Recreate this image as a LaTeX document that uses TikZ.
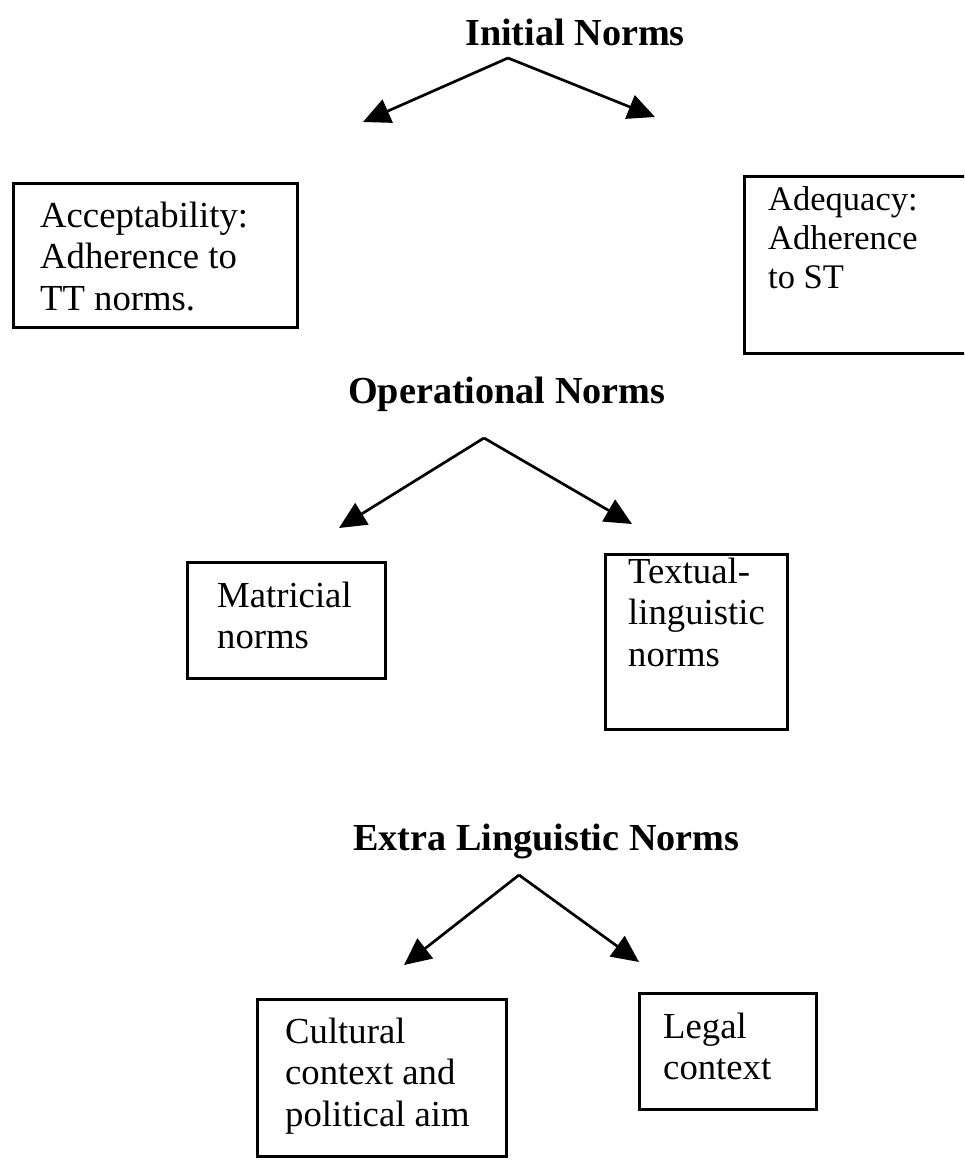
\documentclass[tikz,border=0pt]{standalone}
\usepackage{fontspec}
\setmainfont{Liberation Serif}
\usetikzlibrary{arrows.meta}
\begin{document}
\begin{tikzpicture}[x=1pt,y=-1pt,
  heading/.style={font=\fontsize{38.2}{44}\selectfont\bfseries, inner sep=0pt, anchor=base west},
  boxtext/.style={font=\fontsize{36.7}{41.5}\selectfont, inner sep=0pt, anchor=base west},
  smalltext/.style={font=\fontsize{34.5}{39}\selectfont, inner sep=0pt, anchor=base west},
  normbox/.style={draw, line width=2.6pt, inner sep=0pt, anchor=north west},
  branch/.style={line width=2.7pt, line join=miter, -{Triangle[length=27pt,width=25pt]}}
]
\useasboundingbox (0,0) rectangle (964,1170);
\clip (0,0) rectangle (964,1170);

% ---- initial norms ----
\node[heading] (initial) at (465,45) {Initial Norms};
\coordinate (initapex) at (508,58);
\coordinate (inittipl) at (363,122);
\coordinate (inittipr) at (655,117);
\draw[branch] (initapex) -- (inittipl);
\draw[branch] (initapex) -- (inittipr);

\node[normbox, minimum width=284pt, minimum height=144pt] (accbox) at (12,182) {};
\node[boxtext] (acctext) at (40,227)
  {\begin{tabular}[t]{@{}l@{}}Acceptability:\\Adherence to\\TT norms.\end{tabular}};

\node[normbox, minimum width=240pt, minimum height=177pt] (adqbox) at (743,175) {};
\node[smalltext] (adqtext) at (768,210)
  {\begin{tabular}[t]{@{}l@{}}Adequacy:\\Adherence\\to ST\end{tabular}};

% ---- operational norms ----
\node[heading] (operational) at (348,403) {Operational Norms};
\coordinate (opapex) at (484,438);
\coordinate (optipl) at (339,528);
\coordinate (optipr) at (632,524);
\draw[branch] (opapex) -- (optipl);
\draw[branch] (opapex) -- (optipr);

\node[normbox, minimum width=198pt, minimum height=116pt] (matbox) at (186,561) {};
\node[boxtext] (mattext) at (217,607)
  {\begin{tabular}[t]{@{}l@{}}Matricial\\norms\end{tabular}};

\node[normbox, minimum width=182pt, minimum height=175pt] (txtbox) at (604,553) {};
\node[boxtext] (txttext) at (628,583)
  {\begin{tabular}[t]{@{}l@{}}Textual-\\linguistic\\norms\end{tabular}};

% ---- extra linguistic norms ----
\node[heading] (extra) at (353,850) {Extra Linguistic Norms};
\coordinate (exapex) at (519,875);
\coordinate (extipl) at (404,965);
\coordinate (extipr) at (639,962);
\draw[branch] (exapex) -- (extipl);
\draw[branch] (exapex) -- (extipr);

\node[normbox, minimum width=249pt, minimum height=157pt] (culbox) at (256,998) {};
\node[boxtext] (cultext) at (285,1043)
  {\begin{tabular}[t]{@{}l@{}}Cultural\\context and\\political aim\end{tabular}};

\node[normbox, minimum width=177pt, minimum height=116pt] (legbox) at (638,992) {};
\node[boxtext] (legtext) at (663,1038)
  {\begin{tabular}[t]{@{}l@{}}Legal\\context\end{tabular}};
\end{tikzpicture}
\end{document}
